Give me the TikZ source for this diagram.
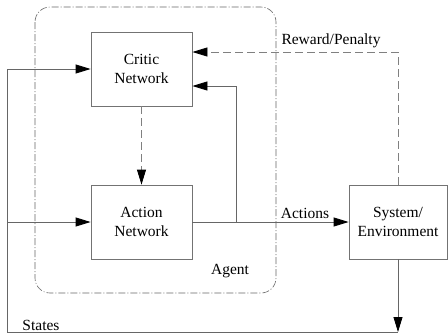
\documentclass[tikz,border=0pt]{standalone}
\usepackage{fontspec}
\setmainfont{Liberation Serif}
\usetikzlibrary{arrows.meta}
\begin{document}
\begin{tikzpicture}[x=1pt, y=-1pt, >={Triangle[length=15pt,width=9pt,color=black]},
	box/.style={draw=black!55, line width=0.8pt, minimum width=101pt, minimum height=74pt, align=center, inner sep=0pt},
	wire/.style={draw=black!60, line width=0.8pt},
	dashwire/.style={draw=black!50, line width=0.8pt, dash pattern=on 8pt off 4pt},
	font=\rmfamily\fontsize{15.5}{18.5}\selectfont]
	\useasboundingbox (0,0) rectangle (448,335);
	% agent frame
	\draw[black!60, line width=0.6pt, rounded corners=15pt, dash pattern=on 7pt off 2pt on 1pt off 2pt] (35,7) rectangle (276,293);
	\node[box] (critic) at (141.5,69) {Critic\\Network};
	\node[box] (action) at (141.5,222) {Action\\Network};
	\node[box, minimum width=98pt] (sys) at (398,222) {System/\\Environment};
	\coordinate (br) at (sys.south |- 0,332);
	\coordinate (bl) at (7,332);
	\coordinate (tl) at (7,69);
	\coordinate (ml) at (7,222);
	\coordinate (fork) at (236,222);
	\coordinate (fork top) at (236,86);
	\coordinate (rew) at (sys.north |- 0,52);
	% connectors
	\draw[wire, ->] (sys.south) -- (br);
	\draw[wire, ->] (br) -- (bl) -- (tl) -- (critic.west);
	\draw[wire, ->] (ml) -- (action.west);
	\draw[wire, ->] (action.east) -- (sys.west);
	\draw[wire, ->] (fork) -- (fork top) -- (critic.east |- fork top);
	\draw[dashwire, ->] (sys.north) -- (rew) -- (critic.east |- rew);
	\draw[dashwire, ->] (critic.south) -- (action.north);
	% labels
	\node (actions) at (305,213) {Actions};
	\node (reward) at (331,41) {Reward/Penalty};
	\node (agent) at (230,271) {Agent};
	\node (states) at (41,325) {States};
\end{tikzpicture}
\end{document}
